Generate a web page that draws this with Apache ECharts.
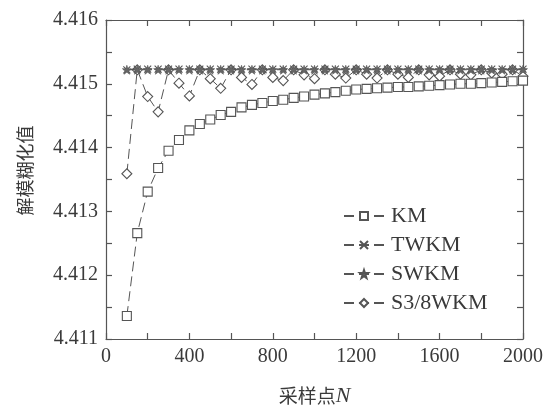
<!DOCTYPE html>
<html>
<head>
<meta charset="utf-8">
<script src="https://cdn.jsdelivr.net/npm/echarts@6/dist/echarts.min.js"></script>
<style>
  html, body { margin: 0; padding: 0; background: #fff; }
  #chart { width: 546px; height: 412px; }
</style>
</head>
<body>
<div id="chart"></div>
<script>
// Sample counts N
var sampleN = [100, 150, 200, 250, 300, 350, 400, 450, 500, 550, 600, 650, 700, 750, 800,
  850, 900, 950, 1000, 1050, 1100, 1150, 1200, 1250, 1300, 1350, 1400, 1450, 1500,
  1550, 1600, 1650, 1700, 1750, 1800, 1850, 1900, 1950, 2000];

// Defuzzified value for each method
var kmValues = [4.41136, 4.41266, 4.41331, 4.41368, 4.41395, 4.41412, 4.41427, 4.41437,
  4.41444, 4.41451, 4.41456, 4.41463, 4.41467, 4.41470, 4.41473, 4.41475, 4.41478,
  4.41480, 4.41483, 4.41485, 4.41487, 4.41489, 4.41491, 4.41492, 4.41493, 4.41494,
  4.41495, 4.41495, 4.41496, 4.41497, 4.41498, 4.41499, 4.41500, 4.41500, 4.41501,
  4.41502, 4.41503, 4.41504, 4.41505];

var twkmValues = [4.41522, 4.41523, 4.41523, 4.41523, 4.41523, 4.41523, 4.41523, 4.41523,
  4.41523, 4.41523, 4.41523, 4.41523, 4.41523, 4.41523, 4.41523, 4.41523, 4.41523,
  4.41523, 4.41523, 4.41523, 4.41523, 4.41523, 4.41523, 4.41523, 4.41523, 4.41523,
  4.41523, 4.41523, 4.41523, 4.41523, 4.41523, 4.41523, 4.41523, 4.41523, 4.41523,
  4.41523, 4.41523, 4.41523, 4.41523];

var swkmValues = [4.41522, 4.41522, 4.41522, 4.41522, 4.41522, 4.41522, 4.41522, 4.41522,
  4.41522, 4.41522, 4.41522, 4.41522, 4.41522, 4.41522, 4.41522, 4.41522, 4.41522,
  4.41522, 4.41522, 4.41522, 4.41522, 4.41522, 4.41522, 4.41522, 4.41522, 4.41522,
  4.41522, 4.41522, 4.41522, 4.41522, 4.41522, 4.41522, 4.41522, 4.41522, 4.41522,
  4.41522, 4.41522, 4.41522, 4.41522];

var s38wkmValues = [4.41359, 4.41522, 4.41480, 4.41456, 4.41522, 4.41501, 4.41481, 4.41522,
  4.41508, 4.41493, 4.41522, 4.41510, 4.41499, 4.41522, 4.41510, 4.41505, 4.41522,
  4.41514, 4.41508, 4.41522, 4.41515, 4.41509, 4.41522, 4.41515, 4.41509, 4.41522,
  4.41515, 4.41510, 4.41522, 4.41514, 4.41512, 4.41522, 4.41515, 4.41514, 4.41522,
  4.41517, 4.41515, 4.41522, 4.41512];

var seriesNames = ['KM', 'TWKM', 'SWKM', 'S3/8WKM'];
var xTicks = { min: 0, max: 2000, step: 400 };
var yTicks = { min: 4.411, max: 4.416, step: 0.001 };

function pairs(values) {
  return sampleN.map(function (n, i) { return [n, values[i]]; });
}

var ink = '#555';
var textInk = '#3a3a3a';
var serif = '"Liberation Serif", "DejaVu Serif", serif';
var cjk = '"Noto Sans CJK SC", "Liberation Serif", serif';

var starPath = 'path://M5,0 L6.2,3.6 L10,3.6 L7,5.9 L8.1,9.5 L5,7.3 L1.9,9.5 L3,5.9 L0,3.6 L3.8,3.6 Z';
var asteriskPath = 'path://M0,0 L10,10 M10,0 L0,10 M0,5 L10,5';

function frameAxis(extra) {
  var base = {
    axisLine: { show: true, onZero: false, lineStyle: { color: ink, width: 1.2 } },
    axisTick: { show: true, inside: true, length: 6, lineStyle: { color: ink, width: 1.2 } },
    minorTick: { show: true, splitNumber: 2, length: 6, lineStyle: { color: ink, width: 1.2 } },
    splitLine: { show: false },
    axisLabel: { show: false }
  };
  return Object.assign(base, extra);
}

var chart = echarts.init(document.getElementById('chart'), null, { renderer: 'canvas' });

chart.setOption({
  backgroundColor: '#fff',
  animation: false,
  grid: { left: 106, right: 23, top: 20, bottom: 66, show: false },
  legend: {
    orient: 'vertical',
    left: 338,
    top: 200,
    itemWidth: 40,
    itemHeight: 10,
    itemGap: 7,
    data: seriesNames,
    textStyle: { fontFamily: serif, fontSize: 22, color: textInk, padding: [0, 0, 0, 2] }
  },
  xAxis: [
    frameAxis({
      type: 'value', position: 'bottom',
      min: xTicks.min, max: xTicks.max, interval: xTicks.step,
      name: '{cn|采样点}{it|N}',
      nameLocation: 'middle',
      nameGap: 46,
      nameTextStyle: {
        rich: {
          cn: { fontFamily: cjk, fontSize: 19, color: textInk },
          it: { fontFamily: serif, fontSize: 22, fontStyle: 'italic', color: textInk }
        }
      },
      axisLabel: {
        show: true, margin: 8, fontFamily: serif, fontSize: 20, color: textInk,
        formatter: function (v) { return String(v); }
      }
    }),
    frameAxis({ type: 'value', position: 'top', min: xTicks.min, max: xTicks.max, interval: xTicks.step })
  ],
  yAxis: [
    frameAxis({
      type: 'value', position: 'left',
      min: yTicks.min, max: yTicks.max, interval: yTicks.step,
      name: '解模糊化值',
      nameLocation: 'middle',
      nameGap: 72,
      nameRotate: 90,
      nameTextStyle: { fontFamily: cjk, fontSize: 18, color: textInk, padding: [0, 0, 0, 18] },
      axisLabel: {
        show: true, margin: 8, fontFamily: serif, fontSize: 20, color: textInk,
        formatter: function (v) { return v.toFixed(3); }
      }
    }),
    frameAxis({ type: 'value', position: 'right', min: yTicks.min, max: yTicks.max, interval: yTicks.step })
  ],
  series: [
    {
      name: seriesNames[0], type: 'line', data: pairs(kmValues),
      symbol: 'rect', symbolSize: 9,
      lineStyle: { color: ink, width: 1, type: [10, 5] },
      itemStyle: { color: '#fff', borderColor: ink, borderWidth: 1.1 },
      z: 3
    },
    {
      name: seriesNames[1], type: 'line', data: pairs(twkmValues),
      symbol: asteriskPath, symbolSize: 7,
      lineStyle: { color: ink, width: 1, type: [10, 5] },
      itemStyle: { color: ink, borderColor: ink, borderWidth: 1.1 },
      z: 4
    },
    {
      name: seriesNames[2], type: 'line', data: pairs(swkmValues),
      symbol: starPath, symbolSize: 9,
      lineStyle: { color: ink, width: 1, type: [10, 5] },
      itemStyle: { color: '#666', borderColor: '#555', borderWidth: 0.6 },
      z: 5
    },
    {
      name: seriesNames[3], type: 'line', data: pairs(s38wkmValues),
      symbol: 'diamond', symbolSize: 10,
      lineStyle: { color: ink, width: 1, type: [10, 5] },
      itemStyle: { color: '#fff', borderColor: ink, borderWidth: 1.1 },
      z: 2
    }
  ]
});
</script>
</body>
</html>
